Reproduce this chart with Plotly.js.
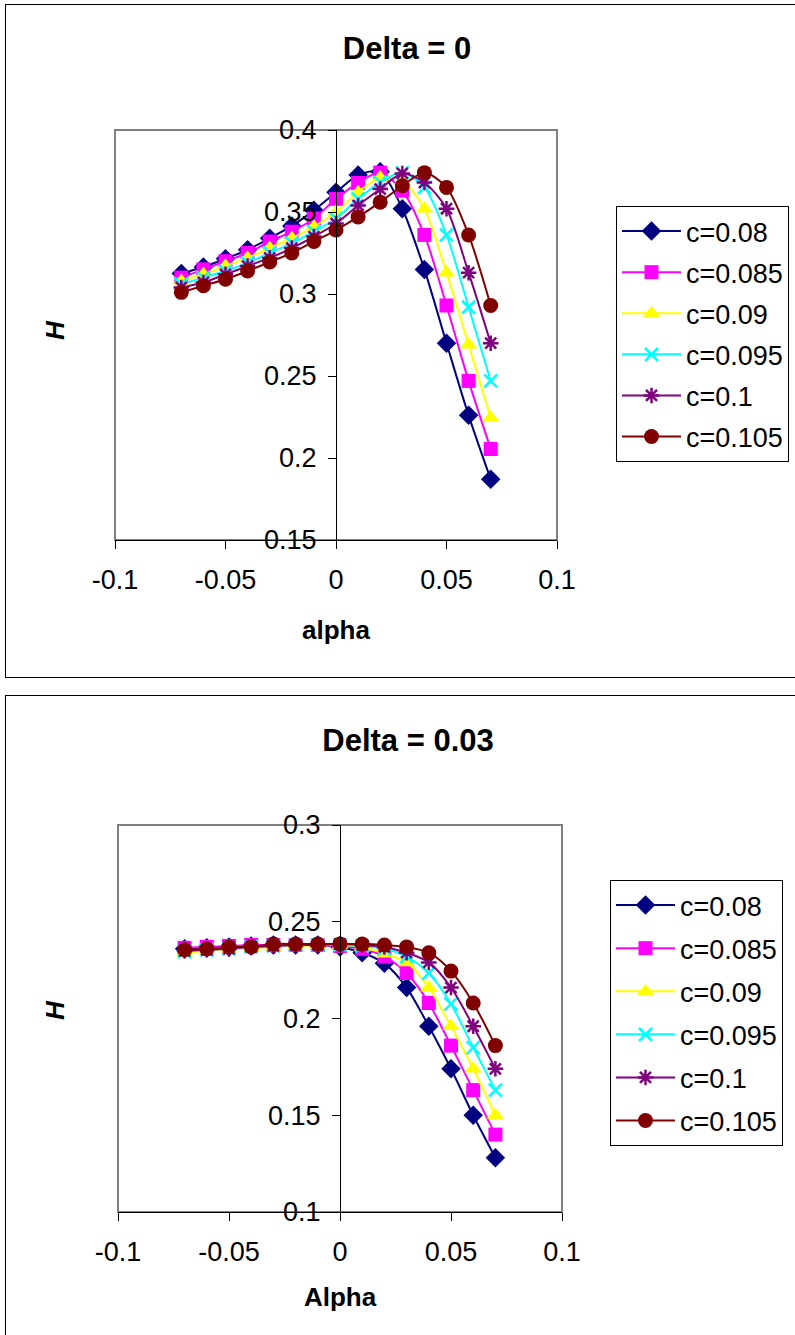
<!DOCTYPE html>
<html>
<head>
<meta charset="utf-8">
<script src="https://cdn.plot.ly/plotly-3.0.1.min.js"></script>
<style>
  html, body { margin:0; padding:0; width:795px; height:1335px; overflow:hidden; background:#fff; }
  #chart1 { position:absolute; left:5px; top:4px; width:800px; height:672px; border:1px solid #000; }
  #chart2 { position:absolute; left:5px; top:695px; width:800px; height:650px; border:1px solid #000; }
</style>
</head>
<body>
<div id="chart1"></div>
<div id="chart2"></div>
<script>
// ---------- data ----------
const alpha = [-0.07, -0.06, -0.05, -0.04, -0.03, -0.02, -0.01, 0, 0.01, 0.02, 0.03, 0.04, 0.05, 0.06, 0.07];
const seriesNames = ['c=0.08', 'c=0.085', 'c=0.09', 'c=0.095', 'c=0.1', 'c=0.105'];

// Delta = 0
const d0_c080 = [0.3125, 0.3165, 0.3215, 0.327, 0.334, 0.3415, 0.351, 0.362, 0.3725, 0.3745, 0.352, 0.315, 0.270, 0.226, 0.187];
const d0_c085 = [0.310, 0.315, 0.320, 0.325, 0.332, 0.338, 0.346, 0.358, 0.3677, 0.374, 0.363, 0.336, 0.293, 0.247, 0.2055];
const d0_c090 = [0.308, 0.312, 0.317, 0.322, 0.328, 0.334, 0.341, 0.350, 0.362, 0.371, 0.369, 0.352, 0.313, 0.269, 0.2245];
const d0_c095 = [0.306, 0.310, 0.314, 0.319, 0.325, 0.331, 0.338, 0.346, 0.358, 0.368, 0.374, 0.365, 0.336, 0.292, 0.247];
const d0_c100 = [0.304, 0.307, 0.312, 0.317, 0.322, 0.328, 0.335, 0.343, 0.354, 0.364, 0.3735, 0.368, 0.352, 0.313, 0.270];
const d0_c105 = [0.301, 0.305, 0.309, 0.314, 0.3195, 0.325, 0.332, 0.339, 0.347, 0.356, 0.366, 0.374, 0.365, 0.336, 0.293];

// Delta = 0.03
const d3_c080 = [0.236, 0.2365, 0.237, 0.2375, 0.238, 0.238, 0.238, 0.237, 0.234, 0.2285, 0.216, 0.196, 0.174, 0.150, 0.128];
const d3_c085 = [0.2365, 0.237, 0.2375, 0.238, 0.238, 0.238, 0.238, 0.2375, 0.236, 0.232, 0.2235, 0.208, 0.186, 0.163, 0.140];
const d3_c090 = [0.234, 0.235, 0.236, 0.2365, 0.237, 0.2375, 0.238, 0.238, 0.237, 0.2335, 0.229, 0.216, 0.196, 0.174, 0.150];
const d3_c095 = [0.2345, 0.2355, 0.236, 0.237, 0.2375, 0.238, 0.238, 0.238, 0.2375, 0.236, 0.232, 0.2235, 0.2075, 0.185, 0.163];
const d3_c100 = [0.235, 0.2355, 0.236, 0.237, 0.2375, 0.238, 0.238, 0.2385, 0.238, 0.237, 0.234, 0.229, 0.216, 0.196, 0.174];
const d3_c105 = [0.2355, 0.236, 0.237, 0.237, 0.2385, 0.2385, 0.2385, 0.2385, 0.2385, 0.238, 0.237, 0.234, 0.2245, 0.208, 0.186];

// ticks
const xTickVals = [-0.1, -0.05, 0, 0.05, 0.1];
const xTickText = ['-0.1', '-0.05', '0', '0.05', '0.1'];
const y1TickVals = [0.15, 0.2, 0.25, 0.3, 0.35, 0.4];
const y1TickText = ['0.15', '0.2', '0.25', '0.3', '0.35', '0.4'];
const y2TickVals = [0.1, 0.15, 0.2, 0.25, 0.3];
const y2TickText = ['0.1', '0.15', '0.2', '0.25', '0.3'];

// ---------- styles ----------
const FONT = '"Liberation Sans", Arial, sans-serif';
const styles = [
  {color:'#000080', symbol:'diamond', size:15, open:false},
  {color:'#FF00FF', symbol:'square', size:14, open:false},
  {color:'#FFFF00', symbol:'triangle-up', size:15, open:false},
  {color:'#00FFFF', symbol:'x-thin-open', size:13, open:true},
  {color:'#800080', symbol:'asterisk-open', size:13, open:true},
  {color:'#800000', symbol:'circle', size:15, open:false}
];

function makeTraces(ys, legendId) {
  return ys.map((y, i) => {
    const s = styles[i];
    return {
      x: alpha, y: y, name: seriesNames[i], type: 'scatter', mode: 'lines+markers',
      legend: legendId, legendgroup: legendId + '_' + i,
      line: {color: s.color, width: 2, shape: 'spline', smoothing: 0.8},
      marker: {symbol: s.symbol, size: s.size, color: s.color,
               line: {color: s.color, width: s.open ? 2.5 : 0}}
    };
  });
}

function makeLayout(opt) {
  const legendKey = opt.legendKey;
  const layout = {
    width: 800, height: opt.height,
    margin: {l: opt.l, r: 800 - opt.l - opt.pw, t: opt.t, b: opt.height - opt.t - opt.ph, pad: 0},
    paper_bgcolor: '#fff', plot_bgcolor: '#fff',
    font: {family: FONT, size: 27, color: '#000'},
    showlegend: true,
    title: {text: opt.title, x: opt.titleX, xanchor: 'center', xref: 'container',
            y: opt.titleY, yanchor: 'middle', yref: 'container',
            font: {family: FONT, size: 31, weight: 'bold', color: '#000'}},
    xaxis: {range: [-0.1, 0.1], tickvals: xTickVals, ticktext: xTickText,
            showgrid: false, zeroline: false, showline: true, linecolor: '#000', linewidth: 1,
            ticks: 'outside', ticklen: 8, tickcolor: '#000', tickwidth: 1,
            tickfont: {family: FONT, size: 27}, ticklabelstandoff: 8,
            title: {text: '<b>' + opt.xTitle + '</b>', font: {family: FONT, size: 26}, standoff: opt.xStandoff}},
    yaxis: {range: opt.yRange, tickvals: opt.yTickVals, ticktext: opt.yTickText,
            anchor: 'free', position: 0.5,
            showgrid: false, zeroline: false, showline: true, linecolor: '#000', linewidth: 1,
            ticks: 'outside', ticklen: 8, tickcolor: '#000', tickwidth: 1,
            tickfont: {family: FONT, size: 27}, ticklabelstandoff: 6},
    shapes: [{type: 'rect', xref: 'paper', yref: 'paper', x0: 0, x1: 1, y0: 0, y1: 1,
              line: {color: '#808080', width: 2}, layer: 'below'}],
    annotations: [{text: '<b><i>H</i></b>', xref: 'paper', yref: 'paper',
                   x: opt.hX, y: opt.hY, xanchor: 'center', yanchor: 'middle',
                   showarrow: false, textangle: -90, font: {family: FONT, size: 26}}]
  };
  layout[legendKey] = {x: opt.legX, y: opt.legY, xanchor: 'left', yanchor: 'top',
                       bgcolor: '#fff', bordercolor: '#000', borderwidth: 1,
                       font: {family: FONT, size: 27}, tracegroupgap: opt.legGap, itemwidth: 59};
  return layout;
}

// Chart 1 (div inner origin at page (6,5))
const L1 = makeLayout({
  height: 672, l: 109, t: 125, pw: 442, ph: 410,
  title: 'Delta = 0', titleX: 401 / 800, titleY: 1 - 43 / 672,
  xTitle: 'alpha', xStandoff: 26, yRange: [0.15, 0.4], yTickVals: y1TickVals, yTickText: y1TickText,
  hX: (55 - 115) / 442, hY: 1 - (330 - 130) / 410,
  legendKey: 'legend', legX: (616 - 115) / 442, legY: 1 - (206 - 130) / 410, legGap: 3
});
Plotly.newPlot('chart1', makeTraces([d0_c080, d0_c085, d0_c090, d0_c095, d0_c100, d0_c105], 'legend'), L1, {displayModeBar: false});

// Chart 2 (div inner origin at page (6,696))
const L2 = makeLayout({
  height: 650, l: 112, t: 129, pw: 444, ph: 387,
  title: 'Delta = 0.03', titleX: 402 / 800, titleY: 1 - 44 / 650,
  xTitle: 'Alpha', xStandoff: 21, yRange: [0.1, 0.3], yTickVals: y2TickVals, yTickText: y2TickText,
  hX: (55 - 118) / 444, hY: 1 - (1010 - 825) / 387,
  legendKey: 'legend2', legX: (610 - 118) / 444, legY: 1 - (880 - 825) / 387, legGap: 5
});
Plotly.newPlot('chart2', makeTraces([d3_c080, d3_c085, d3_c090, d3_c095, d3_c100, d3_c105], 'legend2'), L2, {displayModeBar: false});
</script>
</body>
</html>
